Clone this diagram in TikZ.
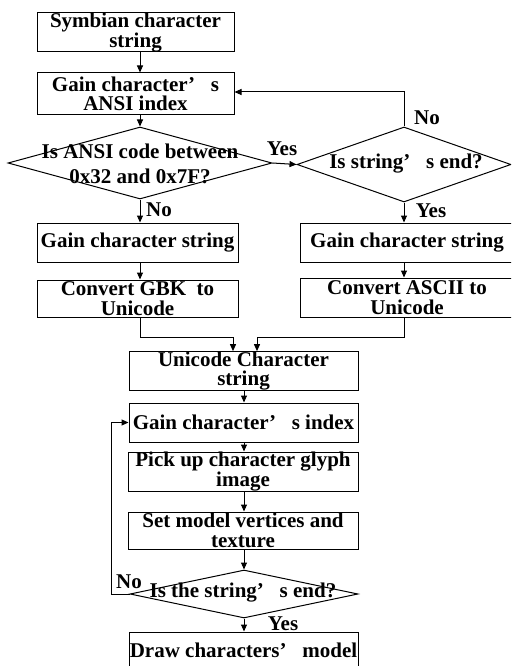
\documentclass[tikz,border=0pt]{standalone}
\usepackage{fontspec}
\setmainfont{Liberation Serif}
\usetikzlibrary{arrows.meta,shapes.geometric,calc}
\newcommand{\apos}{’\hspace{0.75em}}
\begin{document}
\begin{tikzpicture}[x=1pt,y=-1pt,
  every node/.style={font=\fontsize{21}{19.5}\selectfont\bfseries},
  box/.style={draw,line width=1pt,rectangle,inner sep=0pt,align=center},
  dia/.style={draw,line width=1pt,diamond,inner sep=0pt,aspect=1},
  txt/.style={align=center,inner sep=0pt},
  lbl/.style={inner sep=0pt},
  arr/.style={line width=1pt,-{Triangle[length=7pt,width=6pt]}}]
\useasboundingbox (0,0) rectangle (511,666);
\clip (0,0) rectangle (511,666);
% boxes
\node[box,minimum width=197pt,minimum height=39pt] (b1) at (135.5,32.5) {Symbian character\\string};
\node[box,minimum width=197pt,minimum height=42pt] (b2) at (135.5,94) {Gain character\apos s\\ANSI index};
\node[box,minimum width=201pt,minimum height=39pt] (bl1) at (137.5,242.5) {Gain character string};
\node[box,minimum width=201pt,minimum height=37pt] (bl2) at (137.5,298.5) {Convert GBK\ \ to\\Unicode};
\node[box,minimum width=214pt,minimum height=39pt] (br1) at (407,242.5) {Gain character string};
\node[box,minimum width=214pt,minimum height=39pt] (br2) at (407,297.5) {Convert ASCII to\\Unicode};
\node[box,minimum width=229pt,minimum height=38pt] (u) at (243.5,371) {Unicode Character\\string};
\node[box,minimum width=229pt,minimum height=39pt] (g) at (243.5,422.5) {Gain character\apos s index};
\node[box,minimum width=230pt,minimum height=39pt] (p) at (243,471.5) {Pick up character glyph\\image};
\node[box,minimum width=230pt,minimum height=37pt] (s) at (243,530.5) {Set model vertices and\\texture};
\node[box,minimum width=229pt,minimum height=36pt] (dr) at (243.5,650) {Draw characters\apos model};
% diamonds
\node[dia,minimum width=264pt,minimum height=72pt] (d1) at (140,163) {};
\node[txt,font=\fontsize{21}{25}\selectfont\bfseries] (d1t) at (140,164) {Is ANSI code between\\0x32 and 0x7F?};
\node[dia,minimum width=214pt,minimum height=75pt] (d2) at (404,164.5) {};
\node[txt] (d2t) at (406,164) {Is string\apos s end?};
\node[dia,minimum width=228pt,minimum height=48pt] (d3) at (244,594) {};
\node[txt] (d3t) at (243,593) {Is the string\apos s end?};
% labels
\node[lbl] (yes1) at (282,149) {Yes};
\node[lbl] (no1) at (427,118) {No};
\node[lbl] (yes2) at (431,211) {Yes};
\node[lbl] (no2) at (159,210) {No};
\node[lbl] (no3) at (129,582) {No};
\node[lbl] (yes3) at (283,624) {Yes};
% helper coordinates
\coordinate (c1) at (404,92);
\coordinate (m1) at (233,337);
\coordinate (m2) at (257,337);
\coordinate (lp) at (111,594);
% connectors
\draw[arr] (b1.south -| d1.north) -- (b2.north -| d1.north);
\draw[arr] (b2.south -| d1.north) -- (d1.north);
\draw[arr] (d1.east) -- (d2.west);
\draw[arr] (d2.north) -- (c1) -- (c1 -| b2.east);
\draw[arr] (d2.south) -- (br1.north -| d2.south);
\draw[arr] (d1.south) -- (bl1.north -| d1.south);
\draw[arr] (bl1.south -| d1.south) -- (bl2.north -| d1.south);
\draw[arr] (br1.south -| d2.south) -- (br2.north -| d2.south);
\draw[arr] (bl2.south -| d1.south) |- (m1) -- (m1 |- u.north);
\draw[arr] (br2.south -| d2.south) |- (m2) -- (m2 |- u.north);
\draw[arr] (u.south -| d3.north) -- (g.north -| d3.north);
\draw[arr] (g.south -| d3.north) -- (p.north -| d3.north);
\draw[arr] (p.south -| d3.north) -- (s.north -| d3.north);
\draw[arr] (s.south -| d3.north) -- (d3.north);
\draw[arr] (d3.west) -- (lp) |- (g.west);
\draw[arr] (d3.south) -- (dr.north -| d3.south);
\end{tikzpicture}
\end{document}
